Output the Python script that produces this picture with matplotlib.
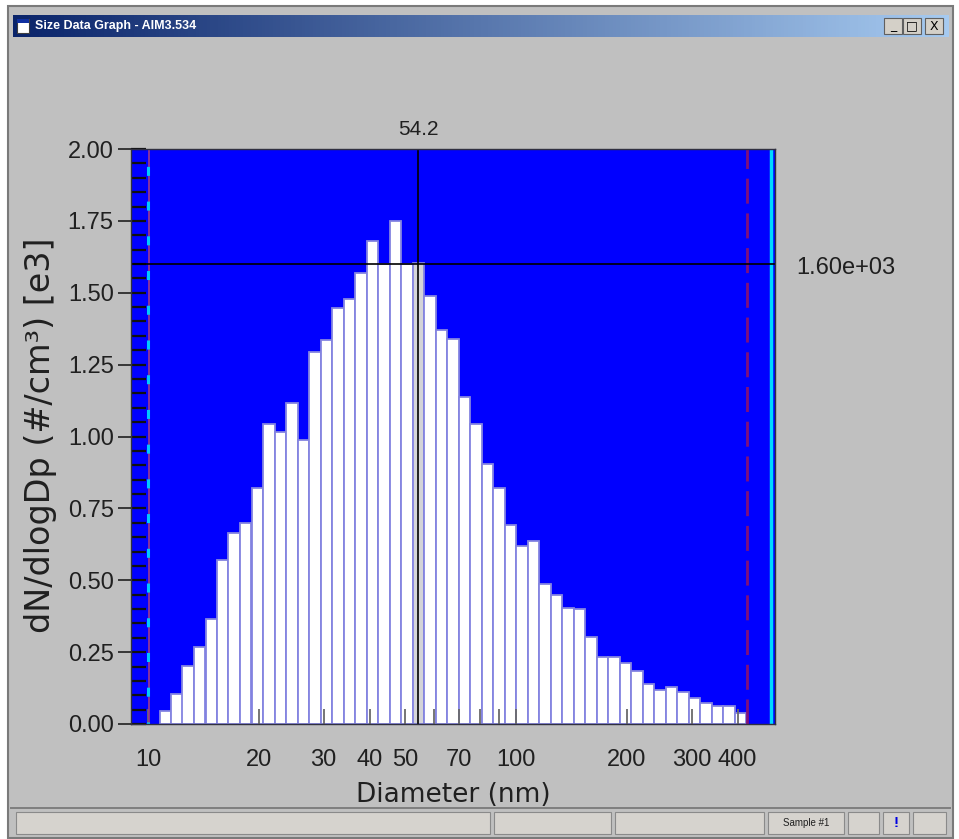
# Size Data Graph - SMPS number size distribution (screenshot style)

import numpy as np
import matplotlib.pyplot as plt
from matplotlib.patches import Rectangle
from matplotlib.ticker import FixedLocator, FixedFormatter, MultipleLocator, NullLocator

plt.rcParams['font.family'] = ['Liberation Sans', 'DejaVu Sans']
plt.rcParams['lines.scale_dashes'] = False

# bin midpoint diameters (nm), 32 channels per decade
diameters = [11.14, 11.97, 12.86, 13.82, 14.86, 15.96, 17.15, 18.43, 19.81, 21.29,
             22.88, 24.58, 26.42, 28.39, 30.51, 32.78, 35.23, 37.86, 40.68, 43.71,
             46.98, 50.48, 54.25, 58.29, 62.64, 67.32, 72.34, 77.74, 83.54, 89.77,
             96.47, 103.66, 111.40, 119.71, 128.64, 138.24, 148.55, 159.63, 171.54, 184.34,
             198.10, 212.87, 228.76, 245.83, 264.17, 283.87, 305.05, 327.81, 352.27, 378.55,
             406.79]

# dN/dlogDp in units of 1e3 #/cm3
counts = [0.045, 0.103, 0.202, 0.267, 0.365, 0.570, 0.666, 0.700, 0.820, 1.043,
          1.017, 1.118, 0.988, 1.293, 1.336, 1.446, 1.479, 1.568, 1.681, 1.599,
          1.750, 1.599, 1.604, 1.487, 1.369, 1.338, 1.139, 1.045, 0.905, 0.820,
          0.691, 0.620, 0.637, 0.488, 0.450, 0.405, 0.399, 0.302, 0.232, 0.232,
          0.212, 0.186, 0.138, 0.118, 0.129, 0.112, 0.090, 0.074, 0.061, 0.061,
          0.037]

x_ticks = [10, 20, 30, 40, 50, 60, 70, 80, 90, 100, 200, 300, 400]
x_tick_labels = ["10", "20", "30", "40", "50", "", "70", "", "", "100", "200", "300", "400"]
y_ticks = [0.0, 0.25, 0.5, 0.75, 1.0, 1.25, 1.5, 1.75, 2.0]

cursor_d = 54.2         # selected channel
cursor_val = 1.60       # value shown at the right
lower_bound = 10.0      # lower size limit marker
upper_bound = 424.0     # upper size limit marker
scan_end = 493.0

W, H = 959, 839
fig = plt.figure(figsize=(W / 100, H / 100), dpi=100)
fig.patch.set_facecolor('white')


# rectangle given in pixel coordinates (origin top-left)
def px_rect(x0, y0, x1, y1, zorder=-1, **kw):
    r = Rectangle((x0 / W, 1 - y1 / H), (x1 - x0) / W, (y1 - y0) / H,
                  transform=fig.transFigure, zorder=zorder, **kw)
    fig.patches.append(r)
    return r


def px_text(x, y, s, **kw):
    return fig.text(x / W, 1 - y / H, s, **kw)


# window body
px_rect(8, 6, 953, 838, zorder=-5, facecolor='#c0c0c0', edgecolor='#7a7a7a', linewidth=1.5)

# title bar with gradient
tax = fig.add_axes([13 / W, 1 - 37 / H, (949 - 13) / W, (37 - 15) / H])
grad = np.linspace(0, 1, 256)
c0 = np.array([10, 36, 106]) / 255
c1 = np.array([166, 202, 240]) / 255
img = (c0[None, :] * (1 - grad[:, None]) + c1[None, :] * grad[:, None])[None, :, :]
tax.imshow(img, aspect='auto', extent=[0, 1, 0, 1])
tax.set_axis_off()
px_text(35, 26.5, "Size Data Graph - AIM3.534", color='white', fontsize=9,
        fontweight='bold', va='center', ha='left', zorder=3)
# window icon
px_rect(17, 19, 29, 33, zorder=2, facecolor='white', edgecolor='#404040', linewidth=0.8)
px_rect(17, 19, 29, 23, zorder=3, facecolor='#1030a0', edgecolor='none')
# caption buttons
for (bx, glyph) in [(884, "_"), (903, "\u25a1"), (925, "X")]:
    px_rect(bx, 18, bx + 18, 34, zorder=2, facecolor='#d4d0c8', edgecolor='#606060', linewidth=0.8)
    px_text(bx + 9, 26, glyph, fontsize=9, ha='center', va='center', color='black',
            family=['DejaVu Sans'], zorder=3)

# status bar
px_rect(10, 807, 951, 809, facecolor='#808080', edgecolor='none')
for (sx0, sx1) in [(16, 490), (494, 611), (615, 764), (768, 844), (848, 879), (883, 909), (913, 946)]:
    px_rect(sx0, 812, sx1, 834, facecolor='#d6d3ce', edgecolor='#8a8a8a', linewidth=0.8)
px_text(806, 823, "Sample #1", fontsize=7, ha='center', va='center', color='#202020')
px_text(896, 823, "!", fontsize=11, ha='center', va='center', color='#0000e0', fontweight='bold')

# plot area
ax = fig.add_axes([131 / W, 1 - 724 / H, (775 - 131) / W, (724 - 149) / H])
ax.set_facecolor('#0000ff')
ax.set_xscale('log')
ax.set_xlim(8.99, 505.5)
ax.set_ylim(0, 2.0)

d = np.array(diameters)
half = 10 ** (1 / 64)
left = d / half
right = d * half
colors = ['#d4d4d8' if abs(v - cursor_d) < 0.2 else 'white' for v in d]
ax.bar(left, counts, width=right - left, align='edge', color=colors,
       edgecolor='#8484e0', linewidth=1.3)

# limit markers and cursor
ax.axvline(lower_bound * 1.008, color='#a03c8c', lw=1.2)
ax.axvline(lower_bound, color='#00c8ff', lw=2.2, linestyle=(5, (6.5, 18.5)))
ax.axvline(upper_bound, color='#80107a', lw=2.0, linestyle=(0, (18, 7)))
ax.axvline(scan_end, color='#00d8ff', lw=2.5)
ax.axvline(cursor_d, color='black', lw=1.2)
ax.axhline(cursor_val, color='black', lw=1.2)

ax.annotate(f"{cursor_d:.1f}", xy=(cursor_d, 1.0), xycoords=ax.get_xaxis_transform(),
            xytext=(0, 7), textcoords='offset points', ha='center', va='bottom',
            fontsize=15, color='#202020')
ax.annotate(f"{cursor_val * 1000:.2e}", xy=(1.0, cursor_val),
            xycoords=ax.get_yaxis_transform(), xytext=(15, -3), textcoords='offset points',
            ha='left', va='center', fontsize=17, color='#202020')

# axes and ticks
ax.xaxis.set_major_locator(FixedLocator(x_ticks))
ax.xaxis.set_major_formatter(FixedFormatter(x_tick_labels))
ax.xaxis.set_minor_locator(NullLocator())
ax.yaxis.set_major_locator(FixedLocator(y_ticks))
ax.yaxis.set_major_formatter(plt.FormatStrFormatter('%.2f'))
ax.yaxis.set_minor_locator(MultipleLocator(0.05))
ax.yaxis.remove_overlapping_locs = False

ax.tick_params(axis='x', which='major', direction='in', length=11, width=1.3,
               color='#6a6a6a', labelsize=17, pad=18, labelcolor='#202020')
ax.tick_params(axis='y', which='major', direction='out', length=9.5, width=1.2,
               color='#202020', labelsize=17, pad=3, labelcolor='#202020')
ax.tick_params(axis='y', which='minor', direction='in', length=11, width=1.6,
               color='#101010')
for s in ax.spines.values():
    s.set_color('#303040')
    s.set_linewidth(1.0)

px_text(453, 795, "Diameter (nm)", fontsize=19, ha='center', va='center',
        color='#202020', family=['DejaVu Sans'])
px_text(41, 435, "dN/dlogDp (#/cm\u00b3) [e3]", fontsize=24, rotation=90,
        ha='center', va='center', color='#202020', family=['DejaVu Sans'])

fig.savefig('out.png', dpi=100, facecolor=fig.get_facecolor())
